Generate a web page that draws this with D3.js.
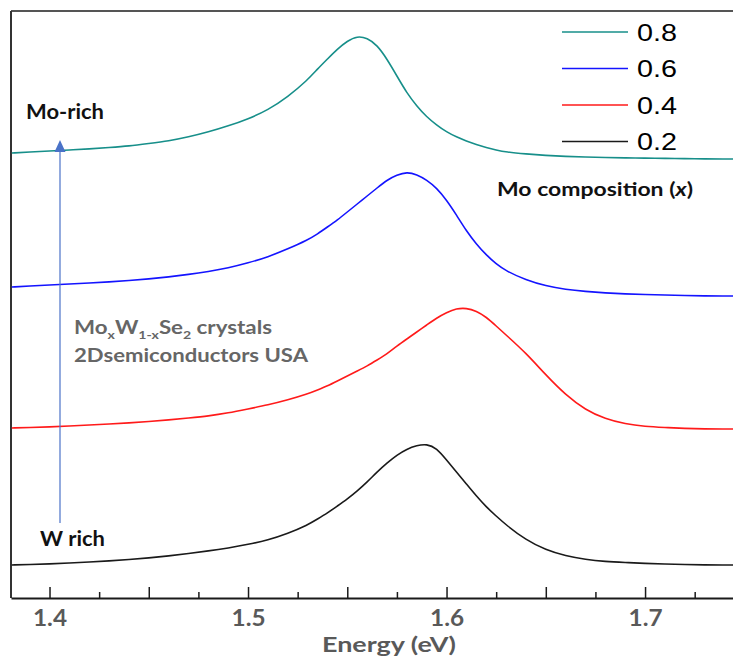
<!DOCTYPE html>
<html>
<head>
<meta charset="utf-8">
<script src="https://cdnjs.cloudflare.com/ajax/libs/d3/7.8.5/d3.min.js"></script>
<style>
  body { margin: 0; background: #fff; }
  svg { display: block; }
</style>
</head>
<body>
<div id="chart"></div>
<script>
// photon energy (eV), shared by all four spectra
var energy = [1.381, 1.39, 1.40, 1.41, 1.42, 1.43, 1.44, 1.45, 1.46, 1.47, 1.48, 1.49, 1.50, 1.51, 1.52,
              1.53, 1.535, 1.54, 1.545, 1.55, 1.555, 1.56, 1.565, 1.57, 1.575, 1.58,
              1.585, 1.59, 1.595, 1.60, 1.605, 1.61, 1.615, 1.62, 1.625, 1.63,
              1.64, 1.65, 1.66, 1.67, 1.68, 1.69, 1.70, 1.71, 1.72, 1.73, 1.74, 1.745];

// PL intensity (a.u., vertically offset) for each Mo composition x
var pl08 = [4.45, 4.46, 4.47, 4.48, 4.49, 4.505, 4.52, 4.545, 4.57, 4.61, 4.66, 4.72, 4.79, 4.88, 5.01,
            5.18, 5.29, 5.39, 5.49, 5.57, 5.62, 5.60, 5.53, 5.39, 5.22, 5.05,
            4.92, 4.81, 4.73, 4.66, 4.61, 4.57, 4.535, 4.505, 4.48, 4.46,
            4.44, 4.425, 4.415, 4.41, 4.405, 4.40, 4.40, 4.395, 4.395, 4.39, 4.39, 4.39];
var pl06 = [3.11, 3.12, 3.13, 3.14, 3.15, 3.16, 3.175, 3.19, 3.21, 3.235, 3.265, 3.30, 3.35, 3.41, 3.49,
            3.58, 3.64, 3.71, 3.78, 3.86, 3.94, 4.02, 4.10, 4.18, 4.23, 4.26,
            4.235, 4.18, 4.10, 3.98, 3.83, 3.67, 3.54, 3.43, 3.34, 3.27,
            3.18, 3.12, 3.085, 3.065, 3.05, 3.04, 3.035, 3.03, 3.025, 3.02, 3.02, 3.02];
var pl04 = [1.70, 1.705, 1.71, 1.72, 1.73, 1.74, 1.75, 1.765, 1.78, 1.80, 1.82, 1.85, 1.89, 1.93, 1.98,
            2.04, 2.08, 2.12, 2.17, 2.22, 2.27, 2.32, 2.38, 2.44, 2.52, 2.59,
            2.66, 2.73, 2.80, 2.855, 2.895, 2.90, 2.87, 2.81, 2.72, 2.63,
            2.45, 2.23, 2.03, 1.88, 1.79, 1.74, 1.715, 1.705, 1.695, 1.69, 1.69, 1.69];
var pl02 = [0.33, 0.335, 0.34, 0.35, 0.36, 0.37, 0.385, 0.40, 0.42, 0.445, 0.47, 0.50, 0.535, 0.58, 0.645,
            0.73, 0.79, 0.85, 0.92, 0.99, 1.07, 1.16, 1.26, 1.35, 1.43, 1.49,
            1.525, 1.54, 1.50, 1.38, 1.26, 1.14, 1.02, 0.91, 0.82, 0.73,
            0.58, 0.48, 0.42, 0.385, 0.365, 0.355, 0.345, 0.34, 0.335, 0.33, 0.33, 0.33];

var compositions = ["0.8", "0.6", "0.4", "0.2"];
var seriesColors = ["#178f8a", "#1414ff", "#ff1a1a", "#1a1a1a"];
var seriesValues = [pl08, pl06, pl04, pl02];

var majorTicks = [1.40, 1.45, 1.50, 1.55, 1.60, 1.65, 1.70];
var minorTicks = [1.425, 1.475, 1.525, 1.575, 1.625, 1.675, 1.725];

var width = 733, height = 661;
var plotLeft = 11, plotTop = 11, plotBottom = 598;

var svg = d3.select("#chart").append("svg")
    .attr("width", width)
    .attr("height", height);

var x = d3.scaleLinear()
    .domain([1.3806, 1.7443])
    .range([plotLeft, width]);

var y = d3.scaleLinear()
    .domain([0, 5.87])
    .range([plotBottom, plotTop]);

// frame: top and left borders
svg.append("line")
    .attr("x1", plotLeft).attr("x2", width)
    .attr("y1", plotTop).attr("y2", plotTop)
    .attr("stroke", "#555")
    .attr("stroke-width", 2);
svg.append("line")
    .attr("x1", plotLeft).attr("x2", plotLeft)
    .attr("y1", plotTop).attr("y2", plotBottom)
    .attr("stroke", "#333")
    .attr("stroke-width", 2);

// spectra
var line = d3.line()
    .x(function(d) { return x(d[0]); })
    .y(function(d) { return y(d[1]); })
    .curve(d3.curveBasis);

seriesValues.forEach(function(vals, i) {
    var pts = energy.map(function(e, j) { return [e, vals[j]]; });
    svg.append("path")
        .datum(pts)
        .attr("d", line)
        .attr("fill", "none")
        .attr("stroke", seriesColors[i])
        .attr("stroke-width", 1.6);
});

// x axis, ticks pointing inward
var axisG = svg.append("g")
    .attr("transform", "translate(0," + plotBottom + ")");

axisG.call(d3.axisBottom(x)
        .tickValues(majorTicks)
        .tickSizeInner(-11)
        .tickSizeOuter(0)
        .tickPadding(12)
        .tickFormat(function(d) {
            return Math.abs(Math.round(d * 10) - d * 10) < 1e-6 ? d3.format(".1f")(d) : "";
        }));

axisG.append("g")
    .call(d3.axisBottom(x)
        .tickValues(minorTicks)
        .tickSizeInner(-6)
        .tickSizeOuter(0)
        .tickFormat(""))
    .select(".domain").remove();

axisG.selectAll(".domain")
    .attr("stroke", "#1a1a1a")
    .attr("stroke-width", 2);
axisG.selectAll(".tick line")
    .attr("stroke", "#1a1a1a")
    .attr("stroke-width", 1.5);

var labelFont = "Lato, 'Open Sans', sans-serif";

axisG.selectAll(".tick text")
    .filter(function() { return this.textContent !== ""; })
    .attr("fill", "#595959")
    .attr("textLength", 34)
    .attr("lengthAdjust", "spacingAndGlyphs")
    .style("font-family", labelFont)
    .style("font-weight", "bold")
    .style("font-size", "22px");

svg.append("text")
    .attr("x", 389)
    .attr("y", 652)
    .attr("text-anchor", "middle")
    .attr("textLength", 134)
    .attr("lengthAdjust", "spacingAndGlyphs")
    .attr("fill", "#595959")
    .style("font-family", labelFont)
    .style("font-weight", "bold")
    .style("font-size", "21px")
    .text("Energy (eV)");

// legend
compositions.forEach(function(c, i) {
    var ly = 32 + i * 36.5;
    svg.append("line")
        .attr("x1", 562).attr("x2", 628)
        .attr("y1", ly).attr("y2", ly)
        .attr("stroke", seriesColors[i])
        .attr("stroke-width", 1.6);
    svg.append("text")
        .attr("x", 637)
        .attr("y", ly + 8.5)
        .attr("textLength", 40)
        .attr("lengthAdjust", "spacingAndGlyphs")
        .attr("fill", "#000")
        .style("font-family", "'Liberation Sans', Arial, sans-serif")
        .style("font-size", "24px")
        .text(c);
});

// composition arrow
svg.append("line")
    .attr("x1", 60).attr("x2", 60)
    .attr("y1", 150).attr("y2", 523)
    .attr("stroke", "#4a72c8")
    .attr("stroke-width", 1.2);
svg.append("path")
    .attr("d", "M60,140 L54.5,152 L65.5,152 Z")
    .attr("fill", "#4a72c8");

svg.append("text")
    .attr("x", 26).attr("y", 119)
    .attr("textLength", 78)
    .attr("lengthAdjust", "spacingAndGlyphs")
    .attr("fill", "#111")
    .style("font-family", labelFont)
    .style("font-weight", "bold")
    .style("font-size", "20px")
    .text("Mo-rich");

svg.append("text")
    .attr("x", 40).attr("y", 546)
    .attr("textLength", 65)
    .attr("lengthAdjust", "spacingAndGlyphs")
    .attr("fill", "#111")
    .style("font-family", labelFont)
    .style("font-weight", "bold")
    .style("font-size", "20px")
    .text("W rich");

var comp = svg.append("text")
    .attr("x", 497).attr("y", 196)
    .attr("textLength", 196)
    .attr("lengthAdjust", "spacingAndGlyphs")
    .attr("fill", "#111")
    .style("font-family", labelFont)
    .style("font-weight", "bold")
    .style("font-size", "19px");
comp.append("tspan").text("Mo composition (");
comp.append("tspan").style("font-style", "italic").text("x");
comp.append("tspan").text(")");

// sample note
var note = svg.append("text")
    .attr("x", 74).attr("y", 334)
    .attr("textLength", 198)
    .attr("lengthAdjust", "spacingAndGlyphs")
    .attr("fill", "#666")
    .style("font-family", labelFont)
    .style("font-weight", "bold")
    .style("font-size", "19px");
note.append("tspan").text("Mo");
note.append("tspan").attr("dy", 5).style("font-size", "12px").text("x");
note.append("tspan").attr("dy", -5).text("W");
note.append("tspan").attr("dy", 5).style("font-size", "12px").text("1-x");
note.append("tspan").attr("dy", -5).text("Se");
note.append("tspan").attr("dy", 5).style("font-size", "12px").text("2");
note.append("tspan").attr("dy", -5).text(" crystals");

svg.append("text")
    .attr("x", 74).attr("y", 362)
    .attr("textLength", 234)
    .attr("lengthAdjust", "spacingAndGlyphs")
    .attr("fill", "#666")
    .style("font-family", labelFont)
    .style("font-weight", "bold")
    .style("font-size", "19px")
    .text("2Dsemiconductors USA");
</script>
</body>
</html>
